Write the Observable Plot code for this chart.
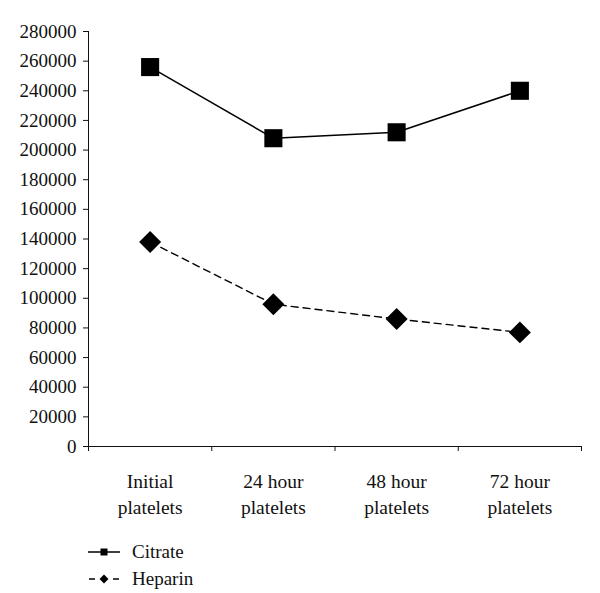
<!DOCTYPE html>
<html>
<head>
<meta charset="utf-8">
<script src="https://cdn.jsdelivr.net/npm/d3@7"></script>
<script src="https://cdn.jsdelivr.net/npm/@observablehq/plot@0.6"></script>
<style>
  body { margin: 0; background: #fff; font-family: "Liberation Serif", "DejaVu Serif", serif; }
  #wrap { width: 600px; }
  .legend { margin-left: 88px; margin-top: 18px; font-size: 19px; color: #111; }
  .legend div { display: flex; align-items: center; height: 27px; }
  .legend svg { margin-right: 12px; }
</style>
</head>
<body>
<div id="wrap"></div>
<script>
const categories = ["Initial\nplatelets", "24 hour\nplatelets", "48 hour\nplatelets", "72 hour\nplatelets"];
const citrate = [256000, 208000, 212000, 240000];
const heparin = [138000, 96000, 86000, 77000];
const yTicks = d3.range(0, 280001, 20000);

const rows = [];
categories.forEach((c, i) => {
  rows.push({series: "Citrate", idx: i + 0.5, value: citrate[i]});
  rows.push({series: "Heparin", idx: i + 0.5, value: heparin[i]});
});
const cit = rows.filter(d => d.series === "Citrate");
const hep = rows.filter(d => d.series === "Heparin");

const plot = Plot.plot({
  width: 600,
  height: 520,
  marginLeft: 88,
  marginRight: 19,
  marginTop: 31,
  marginBottom: 74,
  style: {fontFamily: "Liberation Serif, DejaVu Serif, serif", fontSize: "19px", color: "#111", background: "#fff"},
  x: {domain: [0, categories.length], axis: null},
  y: {domain: [0, 280000], axis: null},
  marks: [
    Plot.axisY({ticks: yTicks, tickFormat: d3.format("d"), tickSize: 5, tickPadding: 7, fontSize: 19, label: null}),
    Plot.axisX({ticks: d3.range(0, categories.length + 1), tickFormat: () => "", tickSize: 5, label: null}),
    Plot.ruleX([0], {y1: 0, y2: 280000, stroke: "#111"}),
    Plot.ruleY([0], {stroke: "#111"}),
    Plot.text(categories, {x: (d, i) => i + 0.5, y: 0, text: d => d, dy: 22.5, lineAnchor: "top", lineHeight: 1.35, fontSize: 19.5, fill: "#111"}),
    Plot.line(cit, {x: "idx", y: "value", stroke: "#000", strokeWidth: 1.5}),
    Plot.line(hep, {x: "idx", y: "value", stroke: "#000", strokeWidth: 1.4, strokeDasharray: "7,5"}),
    Plot.dot(cit, {x: "idx", y: "value", symbol: "square", r: 10.2, fill: "#000", stroke: "none"}),
    Plot.dot(hep, {x: "idx", y: "value", symbol: "diamond2", r: 9.9, fill: "#000", stroke: "none"})
  ]
});

const wrap = document.getElementById("wrap");
wrap.appendChild(plot);

const legend = document.createElement("div");
legend.className = "legend";
legend.innerHTML = `
  <div><svg width="32" height="12"><line x1="0" y1="6" x2="32" y2="6" stroke="#000" stroke-width="1.5"/><rect x="12.5" y="2.5" width="7" height="7" fill="#000"/></svg>Citrate</div>
  <div><svg width="32" height="12"><line x1="0" y1="6" x2="32" y2="6" stroke="#000" stroke-width="1.5" stroke-dasharray="6,6" stroke-dashoffset="-1"/><path d="M16 1.5 L20.5 6 L16 10.5 L11.5 6 Z" fill="#000"/></svg>Heparin</div>`;
wrap.appendChild(legend);
</script>
</body>
</html>
